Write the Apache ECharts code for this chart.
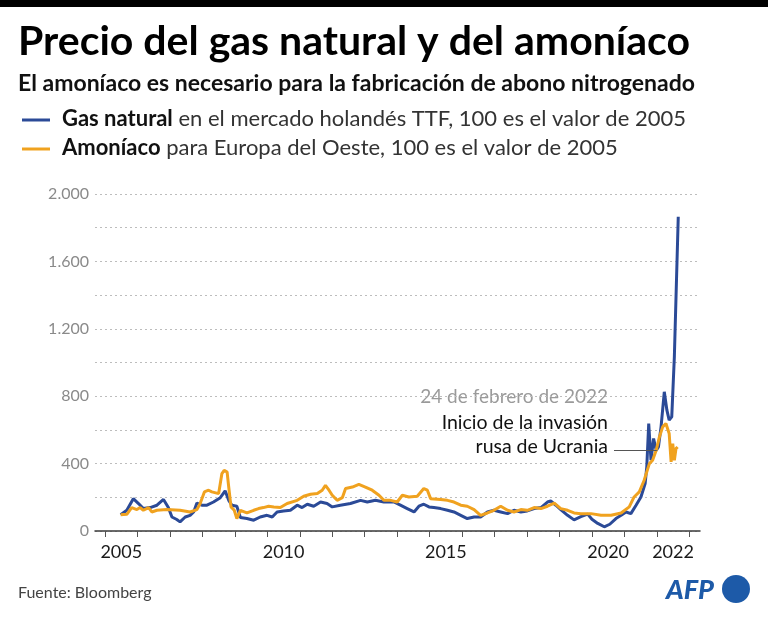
<!DOCTYPE html>
<html>
<head>
<meta charset="utf-8">
<script src="https://cdn.jsdelivr.net/npm/echarts@6/dist/echarts.min.js"></script>
<style>
html,body{margin:0;padding:0;background:#fff;}
#chart{width:768px;height:617px;}
</style>
</head>
<body>
<div id="chart"></div>
<script>
// ---- Data (index, 100 = 2005 value), x = fractional year ----
const gasNatural = [
  [2005.48,97],[2005.67,123],[2005.87,192],[2006.03,163],[2006.18,133],[2006.39,139],[2006.6,153],
  [2006.8,187],[2006.95,139],[2007.06,83],[2007.21,68],[2007.31,54],[2007.47,83],[2007.62,93],
  [2007.73,113],[2007.83,166],[2007.98,153],[2008.14,153],[2008.34,172],[2008.55,198],[2008.7,238],
  [2008.81,182],[2008.91,153],[2009.06,147],[2009.17,80],[2009.37,74],[2009.58,64],[2009.78,83],
  [2009.99,93],[2010.15,83],[2010.3,113],[2010.5,119],[2010.71,123],[2010.92,153],[2011.07,139],
  [2011.23,159],[2011.43,147],[2011.64,172],[2011.84,163],[2012.0,143],[2012.25,153],[2012.56,163],
  [2012.87,182],[2013.08,172],[2013.33,182],[2013.59,172],[2013.9,172],[2014.1,153],[2014.31,133],
  [2014.52,113],[2014.67,147],[2014.82,159],[2014.98,143],[2015.13,139],[2015.34,133],[2015.55,123],
  [2015.75,113],[2015.96,93],[2016.16,74],[2016.37,83],[2016.57,83],[2016.78,113],[2016.98,123],
  [2017.19,113],[2017.4,103],[2017.6,123],[2017.81,113],[2018.01,119],[2018.22,133],[2018.43,139],
  [2018.63,172],[2018.73,178],[2018.89,153],[2019.04,127],[2019.25,93],[2019.45,66],[2019.66,85],
  [2019.87,100],[2020.0,70],[2020.18,45],[2020.38,25],[2020.55,40],[2020.74,74],[2020.9,93],
  [2021.05,113],[2021.2,103],[2021.36,153],[2021.51,202],[2021.64,282],[2021.69,380],[2021.75,638],
  [2021.82,420],[2021.9,549],[2021.98,479],[2022.05,499],[2022.13,618],[2022.23,826],[2022.31,717],
  [2022.38,658],[2022.46,677],[2022.54,1034],[2022.66,1865]
];
const amoniaco = [
  [2005.48,97],[2005.67,99],[2005.82,139],[2005.98,127],[2006.08,139],[2006.18,123],[2006.34,139],
  [2006.44,113],[2006.6,123],[2006.9,127],[2007.31,123],[2007.62,113],[2007.83,127],[2007.93,163],
  [2008.06,232],[2008.19,242],[2008.29,232],[2008.5,222],[2008.6,341],[2008.67,360],[2008.76,350],
  [2008.81,261],[2008.88,143],[2008.98,123],[2009.06,74],[2009.17,123],[2009.37,107],[2009.58,123],
  [2009.73,133],[2009.88,139],[2010.04,147],[2010.2,143],[2010.4,139],[2010.61,163],[2010.92,182],
  [2011.12,206],[2011.33,218],[2011.54,222],[2011.69,242],[2011.79,271],[2011.9,242],[2012.0,212],
  [2012.15,182],[2012.31,198],[2012.41,252],[2012.62,261],[2012.82,277],[2013.02,261],[2013.23,242],
  [2013.44,212],[2013.59,182],[2013.8,182],[2014.0,172],[2014.16,212],[2014.36,202],[2014.62,206],
  [2014.82,252],[2014.93,242],[2015.03,192],[2015.34,187],[2015.55,182],[2015.75,172],[2015.96,153],
  [2016.16,147],[2016.37,127],[2016.57,93],[2016.78,107],[2016.98,123],[2017.19,147],[2017.4,123],
  [2017.6,113],[2017.81,127],[2018.01,123],[2018.22,139],[2018.43,133],[2018.63,147],[2018.84,166],
  [2019.04,133],[2019.25,123],[2019.45,107],[2019.66,103],[2019.97,103],[2020.28,93],[2020.59,93],
  [2020.9,107],[2021.15,143],[2021.3,202],[2021.46,232],[2021.61,301],[2021.77,400],[2021.87,420],
  [2021.98,479],[2022.08,558],[2022.18,618],[2022.28,638],[2022.38,579],[2022.44,410],[2022.49,519],
  [2022.54,420],[2022.59,489],[2022.64,499]
];
const yearTicks = [2005,2006,2007,2008,2009,2010,2011,2012,2013,2014,2015,2016,2017,2018,2019,2020,2021,2022,2023];
const yearLabels = [2005,2010,2015,2020,2022];
const yLabelValues = [0,400,800,1200,1600,2000];

const FONT = 'Lato';
const BLUE = '#2b4a97';
const ORANGE = '#f0a21f';

const chart = echarts.init(document.getElementById('chart'));
chart.setOption({
  backgroundColor: '#fff',
  animation: false,
  grid: {left: 95, right: 68, top: 194, bottom: 86},
  xAxis: {
    type: 'value',
    min: 2004.69, max: 2023.33,
    axisLine: {show: true, lineStyle: {color: '#3a3a3a', width: 1.5}},
    axisTick: {show: true, length: 6, customValues: yearTicks, lineStyle: {color: '#555'}},
    axisLabel: {
      customValues: yearLabels.map(v => v + 0.5),
      formatter: v => String(Math.floor(v)),
      color: '#1a1a1a', fontFamily: FONT, fontSize: 18, margin: 12
    },
    splitLine: {show: false}
  },
  yAxis: {
    type: 'value', min: 0, max: 2000, interval: 200,
    axisLine: {show: false}, axisTick: {show: false},
    axisLabel: {
      customValues: yLabelValues,
      formatter: v => v >= 1000 ? Math.floor(v/1000) + '.' + String(v%1000).padStart(3,'0') : String(v),
      color: '#8a8a8a', fontFamily: FONT, fontSize: 16, margin: 6
    },
    splitLine: {show: true, lineStyle: {color: '#bdbdbd', type: [2, 3], width: 1}}
  },
  series: [
    {
      name: 'Amoníaco', type: 'line', data: amoniaco, showSymbol: false,
      lineStyle: {color: ORANGE, width: 3}, z: 3,
      markLine: {
        silent: true, symbol: 'none', label: {show: false},
        lineStyle: {color: '#555', width: 1, type: 'solid'},
        data: [[{coord: [2020.68, 479]}, {coord: [2022.0, 479]}]]
      }
    },
    {
      name: 'Gas natural', type: 'line', data: gasNatural, showSymbol: false,
      lineStyle: {color: BLUE, width: 3}, z: 2
    }
  ],
  graphic: [
    {type: 'rect', shape: {x: 0, y: 0, width: 768, height: 7}, style: {fill: '#000'}},
    {type: 'text', x: 18, y: 42, style: {text: 'Precio del gas natural y del amoníaco', font: 'bold 41px ' + FONT, fill: '#000', verticalAlign: 'middle'}},
    {type: 'text', x: 18, y: 84, style: {text: 'El amoníaco es necesario para la fabricación de abono nitrogenado', font: 'bold 23px ' + FONT, fill: '#111', verticalAlign: 'middle'}},
    {type: 'rect', shape: {x: 22, y: 118.5, width: 28, height: 3}, style: {fill: BLUE}},
    {type: 'rect', shape: {x: 22, y: 147.5, width: 28, height: 3}, style: {fill: ORANGE}},
    {type: 'text', x: 62, y: 119, style: {
      text: '{b|Gas natural}{r| en el mercado holandés TTF, 100 es el valor de 2005}', verticalAlign: 'middle',
      rich: {b: {font: 'bold 22px ' + FONT, fill: '#111'}, r: {font: '22px ' + FONT, fill: '#333'}}
    }},
    {type: 'text', x: 62, y: 148, style: {
      text: '{b|Amoníaco}{r| para Europa del Oeste, 100 es el valor de 2005}', verticalAlign: 'middle',
      rich: {b: {font: 'bold 22px ' + FONT, fill: '#111'}, r: {font: '22px ' + FONT, fill: '#333'}}
    }},
    {type: 'text', x: 608, y: 397, style: {text: '24 de febrero de 2022', font: '19px ' + FONT, fill: '#9a9a9a', align: 'right', verticalAlign: 'middle'}},
    {type: 'text', x: 608, y: 423, style: {text: 'Inicio de la invasión', font: '19.5px ' + FONT, fill: '#111', align: 'right', verticalAlign: 'middle'}},
    {type: 'text', x: 608, y: 447, style: {text: 'rusa de Ucrania', font: '19.5px ' + FONT, fill: '#111', align: 'right', verticalAlign: 'middle'}},
    {type: 'text', x: 18, y: 593, style: {text: 'Fuente: Bloomberg', font: '16px ' + FONT, fill: '#444', verticalAlign: 'middle'}},
    {type: 'text', x: 666, y: 590, style: {text: 'AFP', font: 'italic 900 27px ' + FONT, fill: '#1d5aa8', verticalAlign: 'middle'}},
    {type: 'circle', shape: {cx: 736, cy: 589, r: 14}, style: {fill: '#1d5aa8'}}
  ]
});
</script>
</body>
</html>
